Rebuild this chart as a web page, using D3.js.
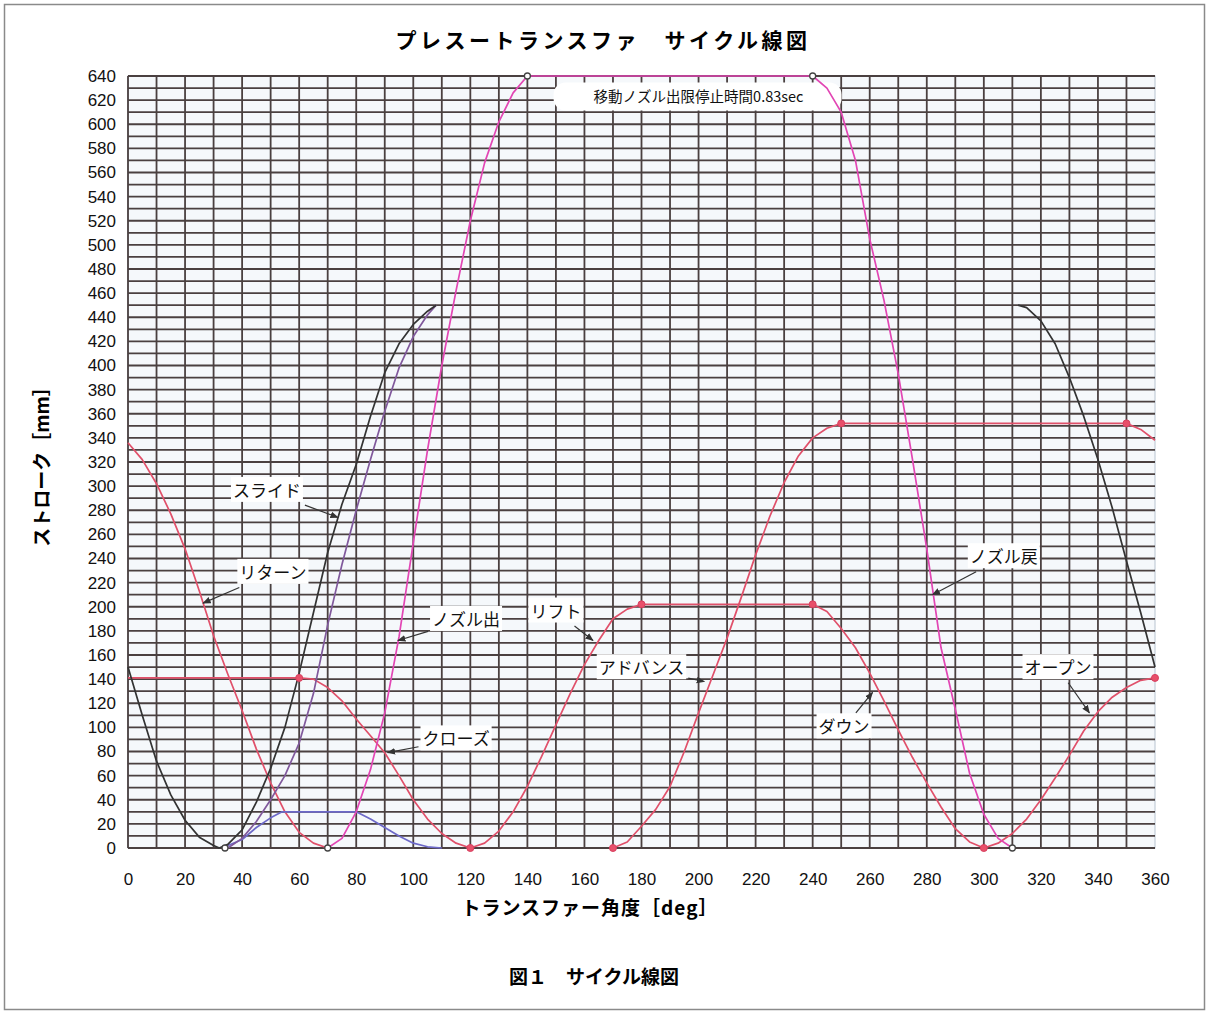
<!DOCTYPE html>
<html>
<head>
<meta charset="utf-8">
<script src="https://cdn.jsdelivr.net/npm/d3@7"></script>
<style>
  body { margin: 0; background: #fff; }
  svg text { font-family: "Liberation Sans", "Noto Sans CJK JP", sans-serif; }
  .jp { font-family: "Noto Sans CJK JP", sans-serif; }
</style>
</head>
<body>
<div id="chart"></div>
<script>
// ticks
const xTicks = d3.range(0, 361, 20);
const yTicks = d3.range(0, 641, 20);

// slide (black) - falls to 0 then rises, and the drop at the end of the cycle
const slideA = [[0,150],[5,110],[10,72],[15,44],[20,23],[25,9],[30,2],[32,0]];
const slideB = [[32,0],[35,3],[40,15],[45,38],[50,66],[55,100],[60,145],[65,195],[70,245],[75,285],[80,318],[85,358],[90,394],[95,418],[100,434],[105,445],[108,450]];
const slideC = [[312,450],[315,448],[320,437],[325,418],[330,390],[335,358],[340,322],[345,282],[350,238],[355,195],[360,150]];
// second rising curve (purple)
const purple = [[35,0],[40,8],[45,22],[50,40],[55,60],[60,87],[65,128],[70,185],[75,235],[80,280],[85,322],[90,362],[95,398],[100,424],[105,442],[108,450]];
// small lift curve (blue)
const blue = [[33,0],[40,7],[45,17],[50,25],[54,30],[80,30],[85,24],[90,17],[95,10],[100,4],[105,1],[110,0]];
// nozzle (magenta)
const nozzle = [[70,0],[75,8],[80,30],[85,65],[90,112],[95,175],[100,253],[105,330],[110,400],[115,462],[120,520],[125,568],[130,602],[135,626],[140,640],
                [240,640],[245,630],[250,610],[255,570],[260,505],[265,454],[270,393],[275,322],[280,248],[285,166],[290,115],[295,62],[300,28],[305,8],[310,0]];
// return / advance (red)
const ret = [[0,336],[5,322],[10,302],[15,277],[20,248],[25,213],[30,176],[35,144],[40,114],[45,82],[50,54],[55,30],[60,13],[65,4],[70,0]];
const adv = [[170,0],[175,5],[180,18],[185,32],[190,51],[195,80],[200,112],[205,143],[210,174],[215,208],[220,243],[225,275],[230,303],[235,325],[240,340],[245,348],[250,352],
             [350,352],[355,347],[360,338]];
// lift / down (red)
const lift = [[120,0],[125,4],[130,14],[135,30],[140,51],[145,76],[150,102],[155,128],[160,152],[165,172],[170,190],[175,198],[180,202],
              [240,202],[245,196],[250,182],[255,166],[260,145],[265,122],[270,98],[275,75],[280,54],[285,34],[290,16],[295,5],[300,0]];
// close / open (red)
const closeC = [[0,141],[60,141],[65,140],[70,133],[75,122],[80,107],[85,93],[90,79],[95,60],[100,40],[105,24],[110,12],[115,4],[120,0]];
const openC = [[300,0],[305,4],[310,12],[315,24],[320,40],[325,58],[330,77],[335,97],[340,113],[345,125],[350,133],[355,139],[360,141]];

// markers
const redMarks = [[60,141],[120,0],[170,0],[180,202],[240,202],[250,352],[300,0],[350,352],[360,141]];
const darkMarks = [[34,0],[70,0],[140,640],[240,640],[310,0]];

// annotations: label, label centre, arrow tip (deg, mm)
const notes = [
  { t: "スライド", at: [48.7,296], tip: [73.6,274] },
  { t: "リターン", at: [50.8,228], tip: [26.3,203] },
  { t: "ノズル出", at: [118.5,189], tip: [94.6,172] },
  { t: "リフト", at: [150,196], tip: [163,172] },
  { t: "アドバンス", at: [180,149], tip: [202,138] },
  { t: "クローズ", at: [115,90], tip: [91,79] },
  { t: "ダウン", at: [251,100], tip: [261,129] },
  { t: "オープン", at: [326,149], tip: [337,112] },
  { t: "ノズル戻", at: [307,241], tip: [282,210] }
];
const stopNote = { t: "移動ノズル出限停止時間0.83sec", at: [200,623] };

const W = 1207, H = 1012;
const margin = { top: 76, right: 52, bottom: 164, left: 128 };

const svg = d3.select("#chart").append("svg")
  .attr("width", W).attr("height", H);

// outer frame
svg.append("rect")
  .attr("x", 4.5).attr("y", 4.5).attr("width", W - 7).attr("height", H - 7)
  .attr("fill", "#fff").attr("stroke", "#8a8a8a").attr("stroke-width", 1.5);

const x = d3.scaleLinear().domain([0, 360]).range([margin.left, W - margin.right]);
const y = d3.scaleLinear().domain([0, 640]).range([H - margin.bottom, margin.top]);

// plot background
svg.append("rect")
  .attr("x", x(0)).attr("y", y(640))
  .attr("width", x(360) - x(0)).attr("height", y(0) - y(640))
  .attr("fill", "#f5f8fb").attr("stroke", "#b8c4d0");

// grid - every 10 deg / 10 mm
const grid = svg.append("g").attr("stroke", "#4a4040").attr("stroke-width", 1.8);
grid.selectAll(".gx").data(d3.range(0, 351, 10)).join("line")
  .attr("x1", d => x(d)).attr("x2", d => x(d))
  .attr("y1", y(640)).attr("y2", y(0));
grid.selectAll(".gy").data(d3.range(0, 641, 10)).join("line")
  .attr("x1", x(0)).attr("x2", x(360))
  .attr("y1", d => y(d)).attr("y2", d => y(d));

// axes (labels only)
const xAxis = svg.append("g")
  .attr("transform", `translate(0,${y(0)})`)
  .call(d3.axisBottom(x).tickValues(xTicks).tickSize(0).tickPadding(25));
xAxis.select(".domain").remove();
xAxis.selectAll("text").attr("font-size", 17).attr("fill", "#111")
  .attr("font-family", "Liberation Sans, sans-serif");

const yAxis = svg.append("g")
  .attr("transform", `translate(${x(0)},0)`)
  .call(d3.axisLeft(y).tickValues(yTicks).tickSize(0).tickPadding(12));
yAxis.select(".domain").remove();
yAxis.selectAll("text").attr("font-size", 17).attr("fill", "#111")
  .attr("font-family", "Liberation Sans, sans-serif");

// white box for stop-time note
const sx = x(stopNote.at[0]), sy = y(stopNote.at[1]);
svg.append("rect")
  .attr("x", sx - 145).attr("y", sy - 14).attr("width", 288).attr("height", 28)
  .attr("rx", 12).attr("fill", "#fff");

// curves
const line = d3.line().x(d => x(d[0])).y(d => y(d[1]));
const curves = [
  { d: closeC, c: "#e0506a" }, { d: openC, c: "#e0506a" },
  { d: lift, c: "#e0506a" }, { d: ret, c: "#e0506a" }, { d: adv, c: "#e0506a" },
  { d: blue, c: "#6c68c8" }, { d: purple, c: "#80599c" },
  { d: slideA, c: "#333" }, { d: slideB, c: "#333" }, { d: slideC, c: "#333" },
  { d: nozzle, c: "#e246b4" }
];
svg.append("g").selectAll("path").data(curves).join("path")
  .attr("d", d => line(d.d))
  .attr("fill", "none")
  .attr("stroke", d => d.c)
  .attr("stroke-width", 1.7)
  .attr("stroke-linejoin", "round");

// markers
svg.append("g").selectAll("circle").data(redMarks).join("circle")
  .attr("cx", d => x(d[0])).attr("cy", d => y(d[1])).attr("r", 3.5)
  .attr("fill", "#e8506a").attr("stroke", "#d84060");
svg.append("g").selectAll("circle").data(darkMarks).join("circle")
  .attr("cx", d => x(d[0])).attr("cy", d => y(d[1])).attr("r", 3)
  .attr("fill", "#fff").attr("stroke", "#444").attr("stroke-width", 1.3);

// stop-time text
svg.append("text").attr("class", "jp")
  .attr("x", sx).attr("y", sy).attr("dy", "0.35em")
  .attr("text-anchor", "middle").attr("font-size", 14.5).attr("fill", "#111")
  .text(stopNote.t);

// arrow marker
svg.append("defs").append("marker")
  .attr("id", "arr").attr("viewBox", "0 0 10 10")
  .attr("refX", 9).attr("refY", 5)
  .attr("markerWidth", 7).attr("markerHeight", 7)
  .attr("orient", "auto")
  .append("path").attr("d", "M0,1 L10,5 L0,9 Z").attr("fill", "#333");

// annotations
const ann = svg.append("g");
notes.forEach(n => {
  const cx = x(n.at[0]), cy = y(n.at[1]);
  const tx = x(n.tip[0]), ty = y(n.tip[1]);
  const g = ann.append("g");
  const txt = g.append("text").attr("class", "jp")
    .attr("x", cx).attr("y", cy).attr("dy", "0.35em")
    .attr("text-anchor", "middle").attr("font-size", 17).attr("fill", "#111")
    .text(n.t);
  const b = txt.node().getBBox();
  g.insert("rect", "text")
    .attr("x", b.x - 2).attr("y", b.y).attr("width", b.width + 4).attr("height", b.height)
    .attr("fill", "#fff");
  // start the arrow at the box edge
  const hw = b.width / 2 + 4, hh = b.height / 2 + 2;
  const dx = tx - cx, dy = ty - cy;
  const s = Math.min(hw / Math.abs(dx || 1e-6), hh / Math.abs(dy || 1e-6));
  ann.append("line")
    .attr("x1", cx + dx * s).attr("y1", cy + dy * s)
    .attr("x2", tx).attr("y2", ty)
    .attr("stroke", "#333").attr("stroke-width", 1.2)
    .attr("marker-end", "url(#arr)");
});

// titles
svg.append("text").attr("class", "jp")
  .attr("x", 603).attr("y", 48).attr("text-anchor", "middle")
  .attr("font-size", 21).attr("font-weight", "bold").attr("letter-spacing", 3.5)
  .text("プレスートランスファ　サイクル線図");

svg.append("text").attr("class", "jp")
  .attr("x", 590).attr("y", 915).attr("text-anchor", "middle")
  .attr("font-size", 19).attr("font-weight", "bold").attr("letter-spacing", 1)
  .text("トランスファー角度［deg］");

svg.append("text").attr("class", "jp")
  .attr("x", 594).attr("y", 984).attr("text-anchor", "middle")
  .attr("font-size", 19).attr("font-weight", "bold")
  .text("図１　サイクル線図");

svg.append("text").attr("class", "jp")
  .attr("transform", "translate(49,462) rotate(-90)")
  .attr("text-anchor", "middle")
  .attr("font-size", 19).attr("font-weight", "bold")
  .text("ストローク［mm］");
</script>
</body>
</html>
